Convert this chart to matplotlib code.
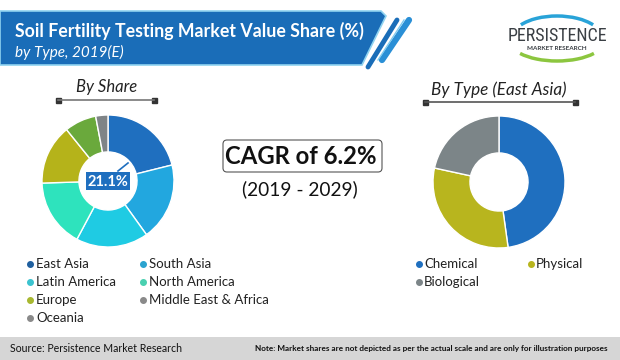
import matplotlib
matplotlib.use("Agg")
import matplotlib.pyplot as plt
from matplotlib.patches import Polygon, FancyBboxPatch, Rectangle, Arc
from matplotlib.lines import Line2D
from matplotlib import font_manager

# ---- data ----
share_labels = ["East Asia", "South Asia", "Latin America", "North America",
                "Europe", "Middle East & Africa", "Oceania"]
share_values = [21.1, 19.0, 17.7, 16.7, 14.7, 7.8, 3.0]
share_colors = ["#1f6fbf", "#22a7df", "#1fcbe3", "#2ee3bd", "#b5b31a", "#6aa93c", "#7f8487"]
legend_marker_colors = ["#1f5f9f", "#2aa3cf", "#3bc3cf", "#4ad0b0", "#a8b830", "#8a8a8a", "#8a8a8a"]

type_labels = ["Chemical", "Physical", "Biological"]
type_values = [47.8, 30.6, 21.6]
type_colors = ["#1f6fbf", "#b8b51e", "#7c8588"]

highlight_label = "21.1%"
cagr_text = "CAGR of 6.2%"
period_text = "(2019 - 2029)"

W, H = 620, 360
fig = plt.figure(figsize=(W / 100, H / 100), dpi=100)
FONT = "Lato"
plt.rcParams["font.family"] = [FONT, "DejaVu Sans"]

names = {f.name for f in font_manager.fontManager.ttflist}
logo_font = "DejaVu Sans"
for cand in ("Liberation Sans Narrow", "DejaVu Sans Condensed", "Roboto Condensed"):
    if cand in names:
        logo_font = cand
        break

bg = fig.add_axes([0, 0, 1, 1])
bg.set_xlim(0, W)
bg.set_ylim(H, 0)
bg.axis("off")

# ---- header banner ----
banner = Polygon([(0, 11), (381, 11), (386, 16), (362, 65), (0, 65)], closed=True,
                 facecolor="#1a6db8", edgecolor="#8fd3f0", lw=1.2, zorder=1)
bg.add_patch(banner)
bg.add_line(Line2D([397, 368], [20, 67], color="#1a6db8", lw=3.5, solid_capstyle="round"))
bg.add_line(Line2D([409, 382], [20, 60], color="#2a8fd6", lw=4.5, solid_capstyle="round"))
bg.add_line(Line2D([404, 378], [20, 60], color="#7fcaf0", lw=1.0))
bg.text(15, 31, "Soil Fertility Testing Market Value Share (%)", color="white",
        fontsize=12.8, fontweight="bold", va="center", ha="left")
bg.text(15, 52, "by Type, 2019(E)", color="white", fontsize=11, style="italic",
        va="center", ha="left")

# ---- logo ----
bg.add_patch(Arc((557, 40), 96, 42, theta1=20, theta2=160, color="#8cc63f", lw=2.5))
bg.add_patch(Arc((557, 38), 90, 44, theta1=200, theta2=340, color="#29a3d8", lw=2.5))
t = bg.text(557, 36, "PERSISTENCE", color="#3a3f44", fontsize=13, ha="center", va="center",
            family=logo_font, fontstretch="condensed")
bg.text(557, 48, "MARKET RESEARCH", color="#3a3f44", fontsize=4.6, ha="center",
        va="center", fontweight="bold")

# ---- section titles ----
bg.text(107, 87, "By Share", fontsize=12, style="italic", ha="center", va="center", color="#222222")
bg.add_line(Line2D([58, 154], [100, 100], color="#777777", lw=1.2))
for x in (58, 154):
    bg.add_patch(Rectangle((x - 2.5, 97.5), 5, 5, color="#333333"))
bg.text(499, 90, "By Type (East Asia)", fontsize=12.3, style="italic", ha="center", va="center", color="#222222")
bg.add_line(Line2D([425, 575], [102, 102], color="#555555", lw=1.2))
for x in (425, 575):
    bg.add_patch(Rectangle((x - 2.5, 99.5), 5, 5, color="#333333"))

# ---- CAGR ----
bg.add_patch(FancyBboxPatch((223, 140), 159, 32, boxstyle="round,pad=0,rounding_size=4",
                            facecolor="white", edgecolor="#555555", lw=0.8))
bg.text(301, 157, cagr_text, fontsize=17.2, fontweight="bold", ha="center", va="center", color="#111111")
bg.text(300, 189, period_text, fontsize=13.8, ha="center", va="center", color="#111111")

# ---- donuts ----
def donut(cx, cy, r, values, colors, hole):
    ax = fig.add_axes([(cx - r) / W, 1 - (cy + r) / H, 2 * r / W, 2 * r / H])
    ax.pie(values, colors=colors, startangle=90, counterclock=False,
           wedgeprops=dict(width=1 - hole, edgecolor="white", linewidth=1.0))
    ax.set_xlim(-1, 1)
    ax.set_ylim(-1, 1)
    ax.set_aspect("equal")
    ax.axis("off")
    return ax

donut(108, 181, 66, share_values, share_colors, 0.44)
donut(499, 182, 66, type_values, type_colors, 0.44)

# highlight label
bg.add_patch(Rectangle((86, 172), 44, 18, facecolor="#1f6fbf", edgecolor="none", zorder=5))
bg.text(108, 181.5, highlight_label, color="white", fontsize=10.5, fontweight="bold",
        ha="center", va="center", zorder=6)
bg.add_line(Line2D([118, 128], [171, 163], color="#1f6fbf", lw=1.2, zorder=5))

# ---- legends ----
left_pos = [(30, 264), (143, 264), (30, 282), (143, 282), (30, 300), (143, 300), (30, 318)]
for (x, y), lab, c in zip(left_pos, share_labels, legend_marker_colors):
    bg.plot(x, y, "o", ms=4, color=c)
    bg.text(x + 6, y, lab, fontsize=9.5, va="center", ha="left", color="#222222")

right_pos = [(419, 264), (531, 264), (419, 282)]
for (x, y), lab, c in zip(right_pos, type_labels, type_colors):
    bg.plot(x, y, "o", ms=4, color=c)
    bg.text(x + 5, y, lab, fontsize=9.5, va="center", ha="left", color="#222222")

# ---- footer ----
bg.add_patch(Rectangle((0, 337), W, 23, facecolor="#d6d6d6", edgecolor="none"))
bg.text(10, 348, "Source: Persistence Market Research", fontsize=7.6, ha="left", va="center", color="#111111")
bg.text(608, 348, "Note: Market shares are not depicted as per the actual scale and are only for illustration purposes",
        fontsize=5.9, ha="right", va="center", color="#111111", fontweight="bold")

fig.savefig("out.png", dpi=100)
